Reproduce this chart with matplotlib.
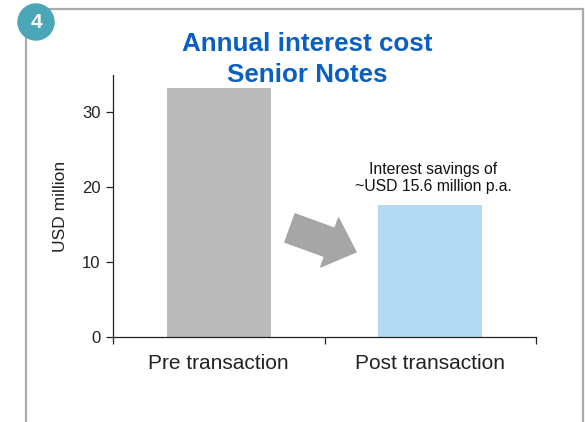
import matplotlib.pyplot as plt
import matplotlib.patches as mpatches

plt.rcParams['font.family'] = ['Liberation Sans', 'DejaVu Sans']

categories = ["Pre transaction", "Post transaction"]
values = [33.2, 17.6]
bar_colors = ["#bbbbbb", "#b3d9f5"]
title = "Annual interest cost\nSenior Notes"
note = "Interest savings of\n~USD 15.6 million p.a."
yticks = [0, 10, 20, 30]

fig = plt.figure(figsize=(5.85, 4.22), dpi=100)
ax = fig.add_axes([113/585, 1-337/422, 423/585, 262/422])

x = range(len(categories))
ax.bar(x, values, width=0.49, color=bar_colors)
ax.set_xlim(-0.5, 1.5)
ax.set_ylim(0, 35)

ax.spines[['top', 'right']].set_visible(False)
for s in ['left', 'bottom']:
    ax.spines[s].set_color('#222222')
    ax.spines[s].set_linewidth(0.9)

ax.set_yticks(yticks)
ax.tick_params(axis='y', length=5, width=0.9, pad=4, labelsize=12, colors='#222222')
ax.set_xticks([-0.5, 0.5, 1.5])
ax.set_xticklabels([])
ax.tick_params(axis='x', which='major', length=5, width=0.9, color='#222222')
ax.set_xticks(list(x), minor=True)
ax.set_xticklabels(categories, minor=True)
ax.tick_params(axis='x', which='minor', length=0, pad=12, labelsize=15, labelcolor='#222222')
ax.set_ylabel("USD million", fontsize=12.5, color='#222222', labelpad=10)

# title
fig.text(307/585, 1-59.5/422, title, ha='center', va='center', fontsize=18.7,
         fontweight='bold', color='#0a5fc2', linespacing=1.33)

# note above post bar
fig.text(433/585, 1-178/422, note, ha='center', va='center', fontsize=11.3,
         color='#111111', linespacing=1.2)

# big gray arrow
ax.annotate("", xy=(356, 422-252), xycoords='figure pixels',
            xytext=(290, 422-228), textcoords='figure pixels',
            arrowprops=dict(arrowstyle="simple,head_width=5.2,head_length=2.8,tail_width=3.0",
                            mutation_scale=7.2, color='#a6a6a6', shrinkA=0, shrinkB=0))

# frame
frame = mpatches.Rectangle((26/585, -0.05), (583-26)/585, 1.05-8.5/422,
                           transform=fig.transFigure, fill=False,
                           edgecolor='#aaaaaa', linewidth=1.6)
fig.add_artist(frame)

# badge
badge = mpatches.Circle((36, 422-22), 18, transform=None, color='#4ba6b8')
fig.add_artist(badge)
fig.text(36/585, 1-22/422, "4", ha='center', va='center', fontsize=15,
         fontweight='bold', color='white')

fig.savefig("out.png", dpi=100)
